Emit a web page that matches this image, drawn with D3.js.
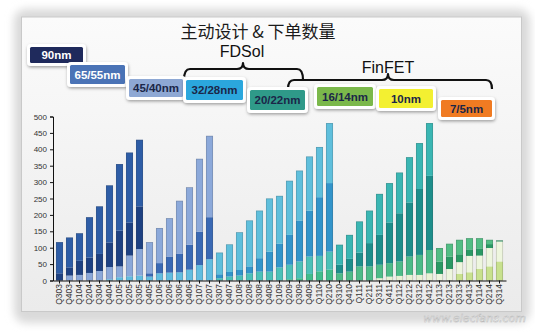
<!DOCTYPE html>
<html>
<head>
<meta charset="utf-8">
<script src="https://cdn.jsdelivr.net/npm/d3@7/dist/d3.min.js"></script>
<style>
  html, body { margin: 0; padding: 0; background: #ffffff; }
  svg { display: block; }
</style>
</head>
<body>
<svg id="chart" width="535" height="332"></svg>
<script>
// Quarters on the x axis
const quarters = ["Q303","Q403","Q104","Q204","Q304","Q404","Q105","Q205","Q305",
  "Q405","Q106","Q206","Q306","Q406","Q107","Q207",
  "Q307","Q407","Q108","Q208","Q308","Q408","Q109","Q209","Q309","Q409","Q110","Q210",
  "Q310","Q410","Q111","Q211","Q311","Q411","Q112","Q212","Q312","Q412",
  "Q113","Q213","Q313","Q413","Q114","Q214","Q314"];

// Leading process generation for each quarter (index into nodePalettes)
const leadNode = [0,0,0,0,0,0,0,0,0, 1,1,1,1,1,1,1, 2,2,2,2,2,2,2,2,2,2,2,2,
  3,3,3,3,3,3,3,3,3,3, 4,4,4,4,4,4,4];

// Stacked segments, bottom to top
const twoAheadDesigns = [0,0,0,0,0,4,10,13,15, 0,0,0,0,0,0,0, 0,0,0,0,0,0,0,4,7,20,28,33,
  0,0,0,0,7,12,14,17,17,22, 0,0,20,25,35,43,58];
const oneAheadDesigns = [0,15,17,23,29,37,33,63,81, 12,22,24,25,33,47,65, 7,12,15,22,27,27,40,44,51,53,47,55,
  22,27,43,43,41,41,44,56,61,71, 20,35,36,50,41,56,61];
const tapeOuts = [22,25,43,47,52,75,109,101,130, 10,31,49,56,76,102,128, 12,14,17,21,41,61,72,91,125,140,179,209,
  26,39,42,71,91,124,147,165,201,226, 38,38,24,20,22,12,3];
const activeDesigns = [95,91,84,123,145,174,203,213,203, 95,107,117,162,175,222,248, 66,84,115,140,145,162,146,165,152,165,153,183,
  61,73,95,99,125,120,124,138,140,161, 41,39,44,34,31,13,0];

const yTicks = [0,50,100,150,200,250,300,350,400,450,500];

// Process node badges
const badgeLabels = ["90nm","65/55nm","45/40nm","32/28nm","20/22nm","16/14nm","10nm","7/5nm"];
const badgeFills  = ["#1f2a5c","#4a73b6","#8ea8d4","#2ba7dd","#2f9a89","#7bb84b","#f3f031","#f07b22"];
const badgeText   = ["#ffffff","#ffffff","#1b2648","#1b2648","#1b2648","#1b2648","#1b2648","#1b2648"];
const badgeBoxes  = [[30,47,53,16],[70,65,55,19],[129,79,54,18],[186,80,57,20],
                     [250,90,55,20],[317,87,56,19],[379,89,54,19],[441,100,51,17]];

// Colours of the four stacked layers for each leading node
const nodePalettes = [
  {a:"#62bde0", b:"#8ba8d9", c:"#1e4182", d:"#2e5da6"},
  {a:"#4bbfb0", b:"#62bde0", c:"#3a69b4", d:"#8ca9da"},
  {a:"#41bd8b", b:"#4cc1b8", c:"#3294ca", d:"#5fbfdc"},
  {a:"#e8f2d4", b:"#4dbb88", c:"#1d8e8b", d:"#3ab6b3"},
  {a:"#c8e18e", b:"#eef6de", c:"#2a9964", d:"#52bd84"}
];

const svg = d3.select("#chart");
const defs = svg.append("defs");

const soft = defs.append("filter").attr("id","soft").attr("x","-10%").attr("y","-10%").attr("width","120%").attr("height","120%");
soft.append("feGaussianBlur").attr("stdDeviation", 4);

const shadow = defs.append("filter").attr("id","shadow").attr("x","-30%").attr("y","-30%").attr("width","160%").attr("height","170%");
shadow.append("feDropShadow").attr("dx",0.5).attr("dy",1.5).attr("stdDeviation",1.4).attr("flood-color","#000").attr("flood-opacity",0.35);

const panelGrad = defs.append("linearGradient").attr("id","panelGrad").attr("x1",0).attr("y1",0).attr("x2",0).attr("y2",1);
panelGrad.append("stop").attr("offset","0%").attr("stop-color","#fbfbfb");
panelGrad.append("stop").attr("offset","100%").attr("stop-color","#ebebeb");

// Card frame
svg.append("rect").attr("x",14).attr("y",9).attr("width",516).attr("height",314).attr("rx",12)
  .attr("fill","#d9d9d9").attr("filter","url(#soft)");
svg.append("rect").attr("x",21.5).attr("y",17).attr("width",500).attr("height",294.5)
  .attr("fill","url(#panelGrad)").attr("stroke","#c9c9c9").attr("stroke-width",1);

// Title
svg.append("text").attr("x",258).attr("y",38).attr("text-anchor","middle")
  .attr("font-family","'Noto Sans CJK SC', sans-serif").attr("font-size",17).attr("fill","#1a1a1a")
  .text("主动设计 & 下单数量");

// Scales
const x = d3.scaleBand().domain(quarters).range([53, 506]).paddingInner(0.3).paddingOuter(0.3);
const y = d3.scaleLinear().domain([0, 500]).range([280.5, 116.5]);

// Stack layers
const rows = quarters.map((q, i) => ({
  q, node: leadNode[i],
  a: twoAheadDesigns[i], b: oneAheadDesigns[i], c: tapeOuts[i], d: activeDesigns[i]
}));
const stack = d3.stack().keys(["a","b","c","d"]);
const layers = stack(rows);

const barsG = svg.append("g");
layers.forEach(layer => {
  barsG.selectAll(null).data(layer.filter(s => s[1] > s[0])).join("rect")
    .attr("x", s => x(s.data.q))
    .attr("width", x.bandwidth())
    .attr("y", s => y(s[1]))
    .attr("height", s => y(s[0]) - y(s[1]))
    .attr("fill", s => nodePalettes[s.data.node][layer.key]);
});
// Bar outlines
barsG.selectAll(null).data(rows).join("rect")
  .attr("x", r => x(r.q) + 0.3)
  .attr("width", x.bandwidth() - 0.6)
  .attr("y", r => y(r.a + r.b + r.c + r.d) + 0.3)
  .attr("height", r => y(0) - y(r.a + r.b + r.c + r.d) - 0.3)
  .attr("fill", "none")
  .attr("stroke", "rgba(60,60,60,0.28)")
  .attr("stroke-width", 0.7);

// Y axis
const yAxis = svg.append("g").attr("transform","translate(53,0)")
  .call(d3.axisLeft(y).tickValues(yTicks).tickSize(3).tickPadding(3));
yAxis.select(".domain").attr("stroke","#111");
yAxis.selectAll(".tick line").attr("stroke","#111");
yAxis.selectAll("text").attr("font-family","'Liberation Sans', Arial, sans-serif").attr("font-size",8).attr("fill","#333");

// X axis
const xAxis = svg.append("g").attr("transform","translate(0,280.5)")
  .call(d3.axisBottom(x).tickSize(3).tickSizeOuter(0).tickPadding(2));
xAxis.select(".domain").attr("stroke","#111");
xAxis.selectAll(".tick line").attr("stroke","#111");
xAxis.selectAll("text")
  .attr("font-family","'Liberation Sans', Arial, sans-serif").attr("font-size",8.5).attr("fill","#333")
  .attr("text-anchor","end").attr("dy","0.35em")
  .attr("transform","translate(0,3.5) rotate(-90)").attr("x",0).attr("y",0);

// Curly braces grouping the transistor families
function bracePath(x1, x2, yEnd, yBar, xTip, yTip) {
  const r = 6;
  return `M${x1},${yEnd} Q${x1},${yBar} ${x1 + r},${yBar} L${xTip - r},${yBar} Q${xTip},${yBar} ${xTip},${yTip} ` +
         `Q${xTip},${yBar} ${xTip + r},${yBar} L${x2 - r},${yBar} Q${x2},${yBar} ${x2},${yEnd}`;
}
svg.append("path").attr("d", bracePath(184, 303, 80, 69, 243, 63))
  .attr("fill","none").attr("stroke","#111").attr("stroke-width",2.2).attr("stroke-linejoin","round");
svg.append("path").attr("d", bracePath(288, 492, 89, 80, 388, 74))
  .attr("fill","none").attr("stroke","#111").attr("stroke-width",2.2).attr("stroke-linejoin","round");

svg.append("text").attr("x",242).attr("y",57).attr("text-anchor","middle")
  .attr("font-family","'Liberation Sans', Arial, sans-serif").attr("font-size",16).attr("fill","#111").text("FDSol");
svg.append("text").attr("x",388).attr("y",73).attr("text-anchor","middle")
  .attr("font-family","'Liberation Sans', Arial, sans-serif").attr("font-size",16).attr("fill","#111").text("FinFET");

// Node badges
const badges = svg.append("g").selectAll("g").data(badgeLabels).join("g");
badges.append("rect")
  .attr("x", (d,i) => badgeBoxes[i][0] - 3).attr("y", (d,i) => badgeBoxes[i][1] - 3)
  .attr("width", (d,i) => badgeBoxes[i][2] + 6).attr("height", (d,i) => badgeBoxes[i][3] + 6)
  .attr("rx", 4).attr("fill", "#ffffff").attr("filter","url(#shadow)");
badges.append("rect")
  .attr("x", (d,i) => badgeBoxes[i][0]).attr("y", (d,i) => badgeBoxes[i][1])
  .attr("width", (d,i) => badgeBoxes[i][2]).attr("height", (d,i) => badgeBoxes[i][3])
  .attr("rx", 1.5).attr("fill", (d,i) => badgeFills[i]);
badges.append("text")
  .attr("x", (d,i) => badgeBoxes[i][0] + badgeBoxes[i][2] / 2)
  .attr("y", (d,i) => badgeBoxes[i][1] + badgeBoxes[i][3] / 2)
  .attr("dy","0.36em").attr("text-anchor","middle")
  .attr("font-family","'Liberation Sans', Arial, sans-serif").attr("font-weight","bold").attr("font-size",11.5)
  .attr("fill", (d,i) => badgeText[i]).text(d => d);

// Site mark
svg.append("text").attr("x",526).attr("y",322).attr("text-anchor","end")
  .attr("font-family","'DejaVu Sans', sans-serif").attr("font-style","italic").attr("font-size",11)
  .attr("fill","#ffffff").attr("stroke","#b8b8b8").attr("stroke-width",0.5).text("www.elecfans.com");
</script>
</body>
</html>
